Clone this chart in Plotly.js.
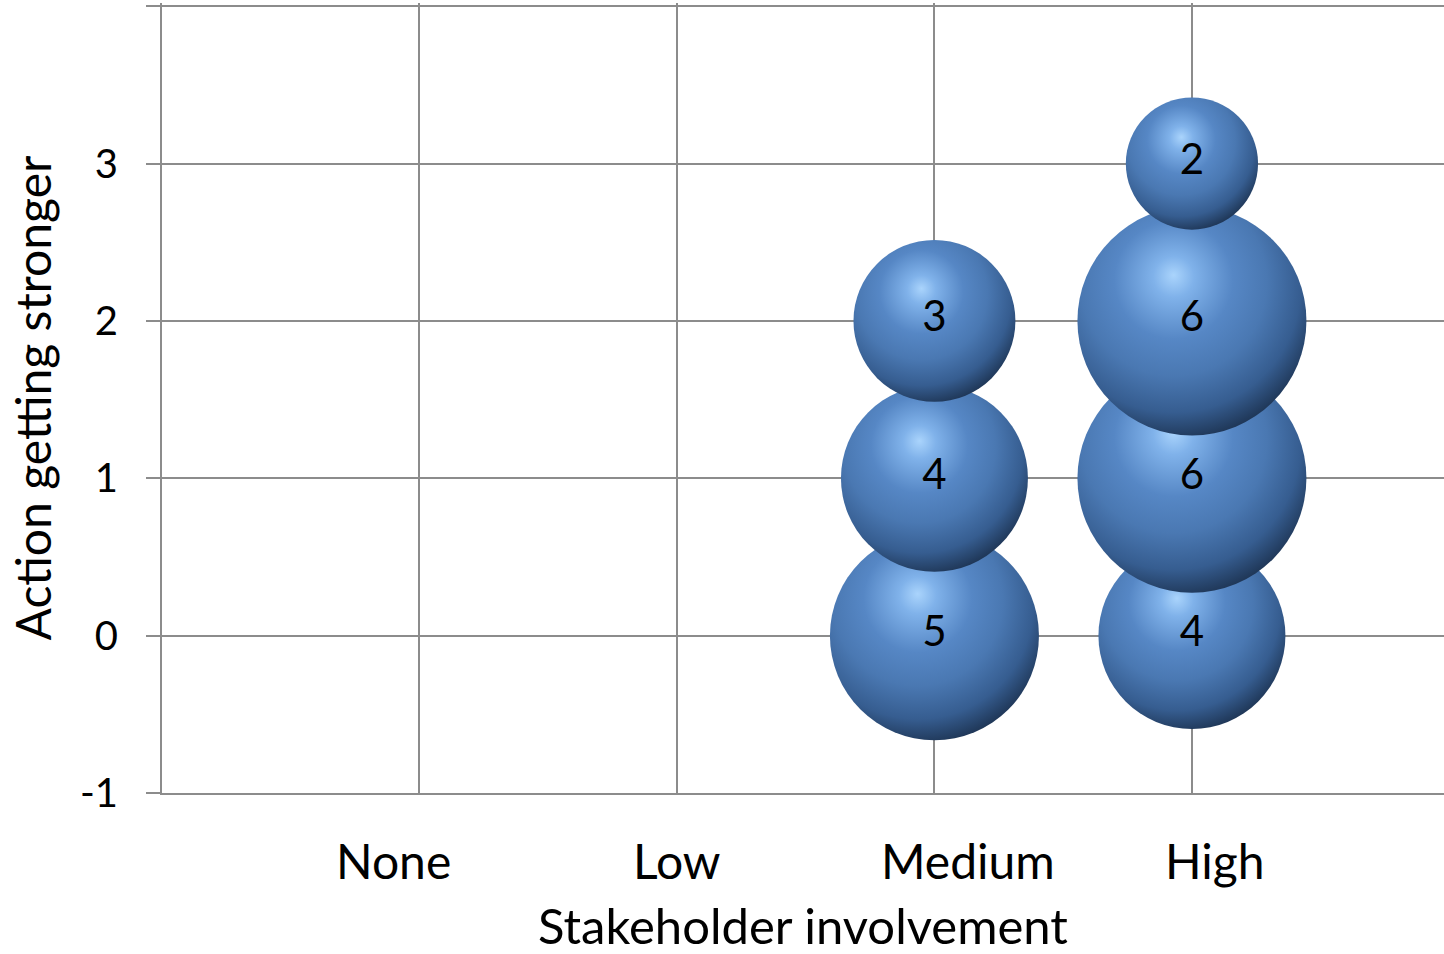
<!DOCTYPE html>
<html>
<head>
<meta charset="utf-8">
<script src="https://cdn.plot.ly/plotly-3.0.1.min.js"></script>
<style>
  html, body { margin: 0; padding: 0; background: #ffffff; }
  #chart { width: 1444px; height: 954px; }
</style>
</head>
<body>
<div id="chart"></div>
<script>
// ---- data ----
var categories = ['None', 'Low', 'Medium', 'High'];
var categoryLabelPos = [0.9, 2.0, 3.13, 4.09];   // where the category text sits on the x scale

var mediumX = [3, 3, 3];
var mediumY = [0, 1, 2];
var mediumCount = [5, 4, 3];

var highX = [4, 4, 4, 4];
var highY = [0, 1, 2, 3];
var highCount = [4, 6, 6, 2];

var yTickVals = [-1, 0, 1, 2, 3, 4];
var yTickText = ['-1', '0', '1', '2', '3', ''];

var xGridVals = [0, 1, 2, 3, 4];

// ---- style ----
var FONT = 'Lato, "Open Sans", sans-serif';
var GRID = '#8c8c8c';
var SIZEREF = 2 * 6 / (229 * 229);

function bubbleTrace(x, y, counts) {
  return {
    type: 'scatter',
    mode: 'markers+text',
    x: x,
    y: y,
    text: counts.map(String),
    textposition: 'middle center',
    textfont: { family: FONT, size: 42, color: '#000000' },
    marker: {
      size: counts,
      sizemode: 'area',
      sizeref: SIZEREF,
      color: '#1d3250',
      gradient: { type: 'radial', color: '#a6d0fa' },
      line: { width: 0 },
      opacity: 1
    },
    hoverinfo: 'skip',
    cliponaxis: false,
    showlegend: false
  };
}

var traces = [
  bubbleTrace(mediumX, mediumY, mediumCount),
  bubbleTrace(highX, highY, highCount)
];

var annotations = categories.map(function (c, i) {
  return {
    text: c,
    x: categoryLabelPos[i],
    xref: 'x',
    y: -0.085,
    yref: 'paper',
    xanchor: 'center',
    yanchor: 'middle',
    showarrow: false,
    font: { family: FONT, size: 48, color: '#000000' }
  };
});

var layout = {
  width: 1444,
  height: 954,
  margin: { l: 162, r: 0, t: 3, b: 161, pad: 0 },
  paper_bgcolor: '#ffffff',
  plot_bgcolor: '#ffffff',
  showlegend: false,
  font: { family: FONT, color: '#000000' },
  xaxis: {
    range: [0, 4.979],
    tickvals: xGridVals,
    showticklabels: false,
    ticks: '',
    showgrid: true,
    gridcolor: GRID,
    gridwidth: 2,
    zeroline: false,
    showline: true,
    linecolor: GRID,
    linewidth: 2,
    title: {
      text: 'Stakeholder involvement',
      font: { family: FONT, size: 49, color: '#000000' },
      standoff: 122
    },
    fixedrange: true
  },
  yaxis: {
    range: [-1, 4.02],
    tickvals: yTickVals,
    ticktext: yTickText,
    ticks: 'outside',
    ticklen: 14,
    tickwidth: 2,
    tickcolor: GRID,
    ticklabelstandoff: 20,
    tickfont: { family: FONT, size: 40, color: '#000000' },
    showgrid: true,
    gridcolor: GRID,
    gridwidth: 2,
    zeroline: false,
    showline: true,
    linecolor: GRID,
    linewidth: 2,
    title: {
      text: 'Action getting stronger',
      font: { family: FONT, size: 48, color: '#000000' },
      standoff: 13
    },
    fixedrange: true
  },
  annotations: annotations
};

var sphereStops = [
  [0.00, '#aad4fc'],
  [0.12, '#80b2ea'],
  [0.35, '#5687c5'],
  [0.55, '#4a78b2'],
  [0.75, '#365d90'],
  [0.88, '#223c5f'],
  [1.00, '#121f33']
];

Plotly.newPlot('chart', traces, layout, { staticPlot: true, displayModeBar: false }).then(function (gd) {
  var NS = 'http://www.w3.org/2000/svg';
  var grads = gd.querySelectorAll('radialGradient');
  grads.forEach(function (g) {
    g.setAttribute('gradientUnits', 'objectBoundingBox');
    g.setAttribute('cx', '0.42');
    g.setAttribute('cy', '0.36');
    g.setAttribute('r', '0.74');
    g.setAttribute('fx', '0.42');
    g.setAttribute('fy', '0.3');
    while (g.firstChild) g.removeChild(g.firstChild);
    sphereStops.forEach(function (s) {
      var st = document.createElementNS(NS, 'stop');
      st.setAttribute('offset', s[0]);
      st.setAttribute('stop-color', s[1]);
      st.setAttribute('stop-opacity', '1');
      g.appendChild(st);
    });
  });
});
</script>
</body>
</html>
